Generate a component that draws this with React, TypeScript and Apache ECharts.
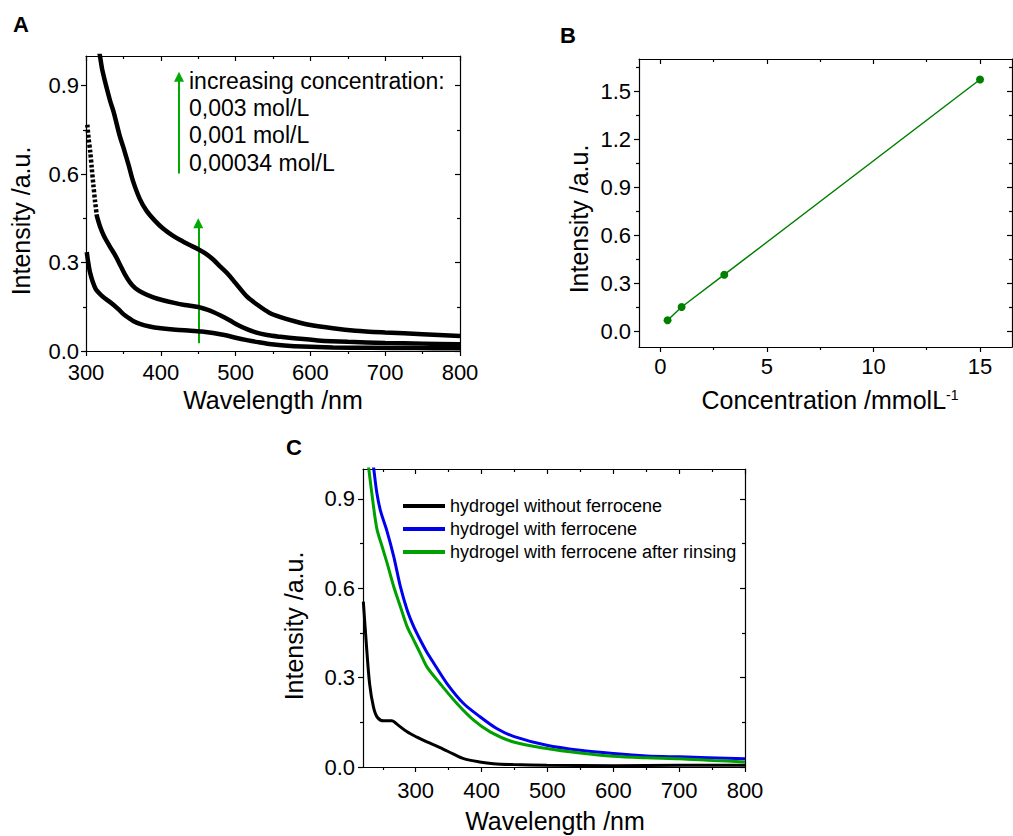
import React, { useEffect, useRef } from "react";
import * as echarts from "echarts";

const FONT = "'Liberation Sans', Arial, Helvetica, sans-serif";

// ---------- Panel A: absorption spectra at three concentrations ----------
const aHighX = [316, 319, 322, 332, 337, 345, 350, 357, 363, 372, 381, 392, 403, 415, 426, 438, 450, 460, 470, 480, 490, 500, 515, 530, 545, 560, 580, 600, 630, 660, 700, 750, 800];
const aHighY = [1.04, 0.995, 0.95, 0.85, 0.81, 0.73, 0.69, 0.63, 0.575, 0.515, 0.475, 0.442, 0.415, 0.393, 0.376, 0.36, 0.345, 0.33, 0.31, 0.285, 0.26, 0.23, 0.185, 0.155, 0.13, 0.115, 0.1, 0.088, 0.077, 0.069, 0.063, 0.057, 0.051];

const aMidSteepX = [301.8, 303.5, 305.6, 307.7, 309.8, 312, 314.3];
const aMidSteepY = [0.767, 0.72, 0.677, 0.62, 0.564, 0.51, 0.462];
const aMidX = [314, 319, 324, 332, 340, 346, 352, 359, 366, 377, 390, 403, 418, 432, 450, 462, 470, 480, 492, 503, 515, 528, 542, 560, 582, 610, 650, 700, 750, 800];
const aMidY = [0.462, 0.42, 0.39, 0.354, 0.32, 0.29, 0.26, 0.232, 0.213, 0.196, 0.182, 0.172, 0.163, 0.156, 0.149, 0.14, 0.132, 0.12, 0.104, 0.088, 0.074, 0.062, 0.054, 0.048, 0.042, 0.036, 0.031, 0.027, 0.025, 0.023];

const aLowX = [301, 303, 305.5, 309, 313, 318, 323, 330, 337, 344, 350, 357, 363, 372, 385, 400, 420, 440, 455, 470, 485, 500, 515, 530, 545, 565, 590, 630, 680, 740, 800];
const aLowY = [0.335, 0.3, 0.265, 0.235, 0.21, 0.195, 0.183, 0.17, 0.156, 0.14, 0.125, 0.112, 0.102, 0.092, 0.083, 0.077, 0.072, 0.069, 0.066, 0.061, 0.054, 0.045, 0.037, 0.03, 0.024, 0.019, 0.015, 0.012, 0.011, 0.01, 0.009];

const arrowX = [424.3, 450.1];
const arrowY0 = [0.602, 0.026];
const arrowY1 = [0.93, 0.433];

const annotationLines = ["increasing concentration:", "0,003 mol/L", "0,001 mol/L", "0,00034 mol/L"];

// ---------- Panel B: calibration ----------
const bConc = [0.34, 1, 3, 15];
const bIntensity = [0.067, 0.15, 0.352, 1.572];

// ---------- Panel C: hydrogel spectra ----------
const cBlackX = [220.5, 225, 230, 236, 242, 251.5, 264, 272, 287, 302, 317, 337, 357.6, 372.7, 397, 418, 448, 499, 600, 700, 800];
const cBlackY = [0.555, 0.415, 0.28, 0.2, 0.166, 0.155, 0.155, 0.143, 0.118, 0.1, 0.084, 0.065, 0.043, 0.028, 0.017, 0.011, 0.008, 0.006, 0.0045, 0.006, 0.006];
const cBlueX = [235, 236.4, 241, 246.5, 256.6, 266.7, 276.8, 287, 297, 307, 317, 327, 347.5, 372.7, 398, 423, 448.5, 499, 549.5, 600, 650.5, 701, 800];
const cBlueY = [1.03, 1.0, 0.92, 0.86, 0.79, 0.706, 0.605, 0.527, 0.471, 0.426, 0.385, 0.35, 0.28, 0.213, 0.168, 0.129, 0.103, 0.073, 0.056, 0.045, 0.037, 0.034, 0.028];
const cGreenX = [227, 228.8, 234, 241, 249, 256.6, 266.7, 276.8, 287, 297, 307, 317, 337, 362.6, 388, 413, 448.5, 499, 549.5, 600, 650.5, 701, 751.5, 800];
const cGreenY = [1.03, 1.0, 0.908, 0.8, 0.74, 0.684, 0.605, 0.538, 0.471, 0.426, 0.381, 0.336, 0.28, 0.213, 0.157, 0.118, 0.084, 0.062, 0.047, 0.036, 0.031, 0.028, 0.022, 0.017];
const cNames = ["hydrogel without ferrocene", "hydrogel with ferrocene", "hydrogel with ferrocene after rinsing"];

// ---------- tick values ----------
const wlMajorA = [300, 400, 500, 600, 700, 800];
const wlMinorA = [350, 450, 550, 650, 750];
const intMajor = [0, 0.3, 0.6, 0.9];
const intMinor = [0.15, 0.45, 0.75];
const concMajor = [0, 5, 10, 15];
const concMinor = [2.5, 7.5, 12.5];
const bIntMajor = [0, 0.3, 0.6, 0.9, 1.2, 1.5];
const bIntMinor = [0.15, 0.45, 0.75, 1.05, 1.35, 1.65];
const wlMajorC = [300, 400, 500, 600, 700, 800];
const wlMinorC = [250, 350, 450, 550, 650, 750];

const zip = (xs: number[], ys: number[]) => xs.map((x, i) => [x, ys[i]]);

function axisSet(
  dim: "x" | "y",
  gridIndex: number,
  min: number,
  max: number,
  majors: number[],
  minors: number[],
  fmt: (v: number) => string,
  margin: number
) {
  const lowPos = dim === "x" ? "bottom" : "left";
  const highPos = dim === "x" ? "top" : "right";
  const base = {
    type: "value",
    gridIndex,
    min,
    max,
    splitLine: { show: false },
    axisPointer: { show: false },
  };
  const lineOn = { show: true, onZero: false, lineStyle: { color: "#000", width: 1.2 } };
  const lineOff = { show: false, onZero: false };
  const tick = (vals: number[], inside: boolean, length: number) => ({
    show: true,
    inside,
    length,
    customValues: vals,
    lineStyle: { color: "#000", width: 1.2 },
  });
  return [
    {
      ...base,
      position: lowPos,
      axisLine: lineOn,
      axisTick: tick(majors, false, 5),
      axisLabel: {
        show: true,
        customValues: majors,
        formatter: fmt,
        margin,
        fontSize: 22,
        color: "#000",
        fontFamily: FONT,
      },
    },
    { ...base, position: lowPos, axisLine: lineOff, axisTick: tick(minors, false, 3), axisLabel: { show: false } },
    { ...base, position: highPos, axisLine: lineOn, axisTick: tick(majors, true, 5), axisLabel: { show: false } },
    { ...base, position: highPos, axisLine: lineOff, axisTick: tick(minors, true, 3), axisLabel: { show: false } },
  ];
}

const f1 = (v: number) => v.toFixed(1);
const f0 = (v: number) => String(Math.round(v));

export default function App() {
  const ref = useRef<HTMLDivElement>(null);

  useEffect(() => {
    document.body.style.margin = "0";
    if (!ref.current) return;
    const chart = echarts.init(ref.current, undefined, { renderer: "svg" });

    const titleStyle = { font: `25px ${FONT}`, fill: "#000", align: "center", verticalAlign: "middle" };
    const letterStyle = { font: `bold 22px ${FONT}`, fill: "#000", align: "left", verticalAlign: "middle" };
    const annotY = [81, 107.5, 135, 162.5];

    const curve = (name: string, xs: number[], ys: number[], color: string, width: number, axis: number, extra: any = {}) => ({
      type: "line",
      name,
      xAxisIndex: axis,
      yAxisIndex: axis,
      data: zip(xs, ys),
      showSymbol: false,
      symbol: "none",
      smooth: 0.3,
      lineStyle: { color, width, ...extra },
      itemStyle: { color },
    });

    const option: any = {
      animation: false,
      backgroundColor: "#fff",
      textStyle: { fontFamily: FONT },
      grid: [
        { left: 86, top: 56, width: 374, height: 295, outerBoundsMode: "none" },
        { left: 639, top: 59, width: 373, height: 288, outerBoundsMode: "none" },
        { left: 363, top: 469, width: 382, height: 298, outerBoundsMode: "none" },
      ],
      xAxis: [
        ...axisSet("x", 0, 300, 800, wlMajorA, wlMinorA, f0, 10),
        ...axisSet("x", 1, -1, 16.5, concMajor, concMinor, f0, 8),
        ...axisSet("x", 2, 220, 800, wlMajorC, wlMinorC, f0, 12),
      ],
      yAxis: [
        ...axisSet("y", 0, 0, 1.0, intMajor, intMinor, f1, 7),
        ...axisSet("y", 1, -0.1, 1.7, bIntMajor, bIntMinor, f1, 8),
        ...axisSet("y", 2, 0, 1.0, intMajor, intMinor, f1, 8),
      ],
      legend: {
        data: cNames,
        orient: "vertical",
        left: 398,
        top: 492,
        itemWidth: 42,
        itemHeight: 4,
        itemGap: 5,
        icon: "rect",
        selectedMode: false,
        textStyle: { fontSize: 18, color: "#000", fontFamily: FONT },
      },
      series: [
        // Panel A
        curve("0,003 mol/L", aHighX, aHighY, "#000", 4.5, 0),
        curve("0,001 mol/L steep", aMidSteepX, aMidSteepY, "#000", 4.5, 0, { type: [3, 2] }),
        curve("0,001 mol/L", aMidX, aMidY, "#000", 4.5, 0),
        curve("0,00034 mol/L", aLowX, aLowY, "#000", 4.5, 0),
        {
          type: "lines", name: "arrows", coordinateSystem: "cartesian2d", xAxisIndex: 0, yAxisIndex: 0,
          data: arrowX.map((x, i) => ({ coords: [[x, arrowY0[i]], [x, arrowY1[i]]] })),
          symbol: ["none", "triangle"], symbolSize: 10,
          lineStyle: { color: "#00aa00", width: 2, opacity: 1, curveness: 0 },
          itemStyle: { color: "#00aa00" },
        },
        // Panel B
        {
          type: "line", name: "calibration", xAxisIndex: 4, yAxisIndex: 4,
          data: zip(bConc, bIntensity), symbol: "circle", symbolSize: 8, showSymbol: true,
          lineStyle: { color: "#008000", width: 1.5 }, itemStyle: { color: "#008000" },
        },
        // Panel C
        curve(cNames[0], cBlackX, cBlackY, "#000", 3, 8),
        curve(cNames[1], cBlueX, cBlueY, "#0000ee", 3, 8),
        curve(cNames[2], cGreenX, cGreenY, "#00a000", 3, 8),
      ],
      graphic: [
        { type: "text", x: 13, y: 24, style: { ...letterStyle, text: "A" } },
        { type: "text", x: 560, y: 35, style: { ...letterStyle, text: "B" } },
        { type: "text", x: 286, y: 447, style: { ...letterStyle, text: "C" } },
        ...annotationLines.map((t, i) => ({
          type: "text", x: 189, y: annotY[i],
          style: { text: t, font: `23px ${FONT}`, fill: "#000", align: "left", verticalAlign: "middle" },
        })),
        { type: "text", x: 21, y: 221, rotation: Math.PI / 2, style: { ...titleStyle, text: "Intensity /a.u." } },
        { type: "text", x: 273, y: 400, style: { ...titleStyle, text: "Wavelength /nm" } },
        { type: "text", x: 579, y: 219, rotation: Math.PI / 2, style: { ...titleStyle, text: "Intensity /a.u." } },
        {
          type: "text", x: 830, y: 400,
          style: {
            ...titleStyle,
            text: "Concentration /mmolL{sup|-1}",
            rich: { sup: { fontSize: 14, lineHeight: 14, verticalAlign: "top", fontFamily: FONT, fill: "#000" } },
          },
        },
        { type: "text", x: 294, y: 626, rotation: Math.PI / 2, style: { ...titleStyle, text: "Intensity /a.u." } },
        { type: "text", x: 555, y: 821, style: { ...titleStyle, text: "Wavelength /nm" } },
      ],
    };

    chart.setOption(option);
    return () => chart.dispose();
  }, []);

  return <div ref={ref} style={{ width: 1013, height: 836 }} />;
}
